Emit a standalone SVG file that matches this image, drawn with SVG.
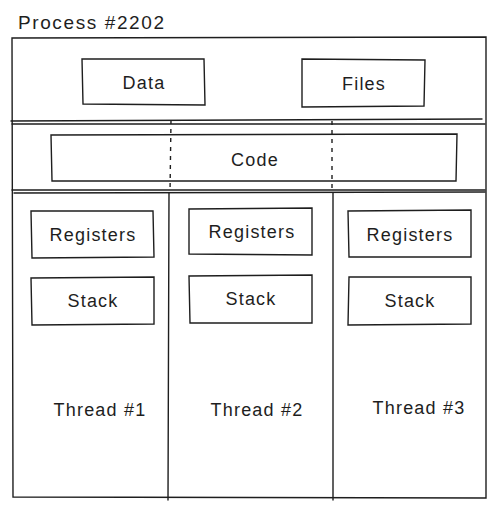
<svg xmlns="http://www.w3.org/2000/svg" width="496" height="508" viewBox="0 0 496 508">
<style>
.b{fill:none;stroke:#1e1e1e;stroke-width:1.4;stroke-linecap:round}
.d{fill:none;stroke:#1e1e1e;stroke-width:1.4;stroke-dasharray:4 5}
text{font-family:"Liberation Sans","DejaVu Sans",sans-serif;font-size:18px;letter-spacing:1.2px;fill:#1e1e1e;text-anchor:middle}
.t{text-anchor:start;font-size:19px;letter-spacing:1.6px}
</style>
<rect width="496" height="508" fill="#fff"/>
<text class="t" x="18" y="29">Process #2202</text>
<g id="process">
<path class="b" d="M12 38 L486 37 L486 498 L13 497 Z"/>
<path class="b" d="M11 121 L482 119 M12 124 L485 124"/>
<path class="b" d="M12 190 L485 190 M14 193 L485 192"/>
</g>
<g id="data"><path class="b" d="M82 59 L204 59 L205 105 L83 104 Z"/><text x="144" y="89">Data</text></g>
<g id="files"><path class="b" d="M302 59 L425 60 L424 106 L302 107 Z"/><text x="364" y="90">Files</text></g>
<g id="code"><path class="b" d="M51 135 L457 134 L456 181 L52 181 Z"/><text x="255" y="166">Code</text></g>
<g id="connectors">
<path class="d" d="M171 120 L170 193"/>
<path class="d" d="M332 121 L332 193"/>
<path class="b" d="M169 193 L168 500"/>
<path class="b" d="M333 193 L333 500"/>
</g>
<g id="thread1">
<path class="b" d="M31 211 L153 211 L154 257 L32 258 Z"/><text x="93" y="241">Registers</text>
<path class="b" d="M31 278 L154 277 L154 324 L32 325 Z"/><text x="93" y="307">Stack</text>
<text x="100" y="416">Thread #1</text>
</g>
<g id="thread2">
<path class="b" d="M189 209 L312 208 L312 255 L189 254 Z"/><text x="252" y="238">Registers</text>
<path class="b" d="M189 276 L312 275 L312 323 L190 323 Z"/><text x="251" y="305">Stack</text>
<text x="257" y="416">Thread #2</text>
</g>
<g id="thread3">
<path class="b" d="M348 211 L471 210 L471 257 L349 257 Z"/><text x="410" y="241">Registers</text>
<path class="b" d="M349 277 L471 277 L471 324 L348 325 Z"/><text x="410" y="307">Stack</text>
<text x="419" y="414">Thread #3</text>
</g>
</svg>
